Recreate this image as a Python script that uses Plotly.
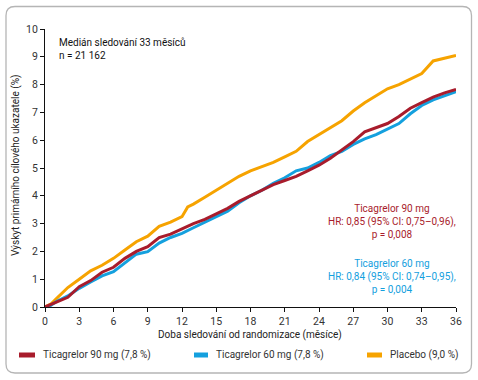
import plotly.graph_objects as go

# Data (months, cumulative incidence %)
months_placebo = [0, 0.5, 1, 1.5, 2, 3, 4, 5, 6, 7, 8, 9, 10, 11, 12, 12.5, 13, 14, 15, 16, 17, 18,
                  19, 20, 21, 22, 23, 24, 25, 26, 27, 28, 29, 30, 31, 32, 33, 34, 35, 36]
placebo = [0, 0.1, 0.3, 0.5, 0.7, 1.0, 1.3, 1.5, 1.75, 2.05, 2.35, 2.55, 2.9, 3.05, 3.25, 3.6, 3.7,
           3.95, 4.2, 4.45, 4.7, 4.9, 5.05, 5.2, 5.4, 5.6, 5.95, 6.2, 6.45, 6.7, 7.05, 7.35, 7.6,
           7.85, 8.0, 8.2, 8.4, 8.85, 8.95, 9.05]

months_t90 = [0, 1, 2, 3, 4, 5, 6, 7, 8, 9, 10, 11, 12, 13, 14, 15, 16, 17, 18, 19, 20, 21, 22,
              23, 24, 25, 26, 27, 28, 29, 30, 31, 32, 33, 34, 35, 36]
t90 = [0, 0.18, 0.35, 0.73, 0.95, 1.25, 1.43, 1.75, 2.0, 2.17, 2.5, 2.62, 2.8, 3.0, 3.15, 3.35,
       3.55, 3.8, 4.0, 4.2, 4.4, 4.55, 4.7, 4.9, 5.1, 5.35, 5.65, 5.95, 6.3, 6.45, 6.6, 6.85, 7.15,
       7.35, 7.55, 7.7, 7.83]

months_t60 = [0.3, 1, 2, 3, 4, 5, 6, 7, 8, 9, 10, 11, 12, 13, 14, 15, 16, 17, 18, 19, 20, 21, 22,
              23, 24, 25, 26, 27, 28, 29, 30, 31, 32, 33, 34, 35, 36]
t60 = [0, 0.2, 0.4, 0.67, 0.9, 1.12, 1.27, 1.6, 1.9, 1.99, 2.3, 2.5, 2.65, 2.85, 3.05, 3.25, 3.45,
       3.75, 4.0, 4.2, 4.45, 4.65, 4.9, 5.0, 5.2, 5.45, 5.6, 5.85, 6.05, 6.2, 6.4, 6.6, 6.95, 7.25,
       7.45, 7.6, 7.75]

x_ticks = list(range(0, 37, 3))
y_ticks = list(range(0, 11))

RED = "#a81c2c"
BLUE = "#14a0de"
ORANGE = "#f6a300"
FONT = "Roboto, Arial, sans-serif"

fig = go.Figure()
fig.add_trace(go.Scatter(x=months_placebo, y=placebo, mode="lines",
                         line=dict(color=ORANGE, width=3), name="Placebo (9,0 %)", showlegend=False))
fig.add_trace(go.Scatter(x=months_t60, y=t60, mode="lines",
                         line=dict(color=BLUE, width=3), name="Ticagrelor 60 mg (7,8 %)", showlegend=False))
fig.add_trace(go.Scatter(x=months_t90, y=t90, mode="lines",
                         line=dict(color=RED, width=3), name="Ticagrelor 90 mg (7,8 %)", showlegend=False))

L, R, T, B = 45, 22, 29, 73
W, H = 478, 380
pw, ph = W - L - R, H - T - B


def px(xp):
    return (xp - L) / pw


def py(yp):
    return (H - B - yp) / ph


# Rounded outer frame
x0, x1, y0, y1 = px(6), px(471.5), py(6.5), py(373)
rx, ry = 9 / pw, 9 / ph
path = (f"M {x0+rx},{y0} L {x1-rx},{y0} Q {x1},{y0} {x1},{y0-ry} "
        f"L {x1},{y1+ry} Q {x1},{y1} {x1-rx},{y1} L {x0+rx},{y1} Q {x0},{y1} {x0},{y1+ry} "
        f"L {x0},{y0-ry} Q {x0},{y0} {x0+rx},{y0} Z")
shapes = [dict(type="path", xref="paper", yref="paper", path=path,
               line=dict(color="#b5b5b5", width=1.3), layer="below")]

# Legend swatches
legend_items = [(19, 35, RED, "Ticagrelor 90 mg (7,8 %)"),
                (194, 208, BLUE, "Ticagrelor 60 mg (7,8 %)"),
                (367, 382, ORANGE, "Placebo (9,0 %)")]
annotations = []
for xa, xb, col, label in legend_items:
    shapes.append(dict(type="line", xref="paper", yref="paper", x0=px(xa), x1=px(xb),
                       y0=py(355), y1=py(355), line=dict(color=col, width=5)))
    annotations.append(dict(xref="paper", yref="paper", x=px(xb + 6), y=py(355), xanchor="left",
                            yanchor="middle", showarrow=False, text=label,
                            font=dict(family=FONT, size=10, color="#333")))

annotations += [
    dict(xref="paper", yref="paper", x=px(57), y=py(35), xanchor="left", yanchor="top",
         align="left", showarrow=False, text="Medián sledování 33 měsíců<br>n = 21 162",
         font=dict(family=FONT, size=10, color="#111")),
    dict(xref="paper", yref="paper", x=px(392), y=py(201), xanchor="center", yanchor="top",
         align="center", showarrow=False,
         text="Ticagrelor 90 mg<br>HR: 0,85 (95% CI: 0,75–0,96),<br>p = 0,008",
         font=dict(family=FONT, size=10, color=RED)),
    dict(xref="paper", yref="paper", x=px(392), y=py(256), xanchor="center", yanchor="top",
         align="center", showarrow=False,
         text="Ticagrelor 60 mg<br>HR: 0,84 (95% CI: 0,74–0,95),<br>p = 0,004",
         font=dict(family=FONT, size=10, color=BLUE)),
    dict(xref="paper", yref="paper", x=px(16), y=py(166), xanchor="center", yanchor="middle",
         textangle=-90, showarrow=False, text="Výskyt primárního cílového ukazatele (%)",
         font=dict(family=FONT, size=10, color="#222")),
    dict(xref="paper", yref="paper", x=px(250), y=py(335), xanchor="center", yanchor="middle",
         showarrow=False, text="Doba sledování od randomizace (měsíce)",
         font=dict(family=FONT, size=10, color="#222")),
]

fig.update_layout(
    width=W, height=H,
    margin=dict(l=L, r=R, t=T, b=B),
    paper_bgcolor="white", plot_bgcolor="white",
    shapes=shapes, annotations=annotations,
    showlegend=False,
    font=dict(family=FONT, size=11, color="#333"),
)
fig.update_xaxes(range=[0, 36], tickvals=x_ticks, ticktext=[str(v) for v in x_ticks],
                 showgrid=False, zeroline=False, showline=True, linecolor="#111", linewidth=1,
                 ticks="outside", ticklen=4, tickcolor="#111", tickfont=dict(size=10.5, color="#333"))
fig.update_yaxes(range=[0, 10], tickvals=y_ticks, ticktext=[str(v) for v in y_ticks],
                 showgrid=False, zeroline=False, showline=True, linecolor="#111", linewidth=1,
                 ticks="outside", ticklen=4, tickcolor="#111", tickfont=dict(size=10.5, color="#333"))

fig.write_html("out.html", config={"displayModeBar": False},
               post_script="document.body.style.margin='0';document.body.style.padding='0';")
